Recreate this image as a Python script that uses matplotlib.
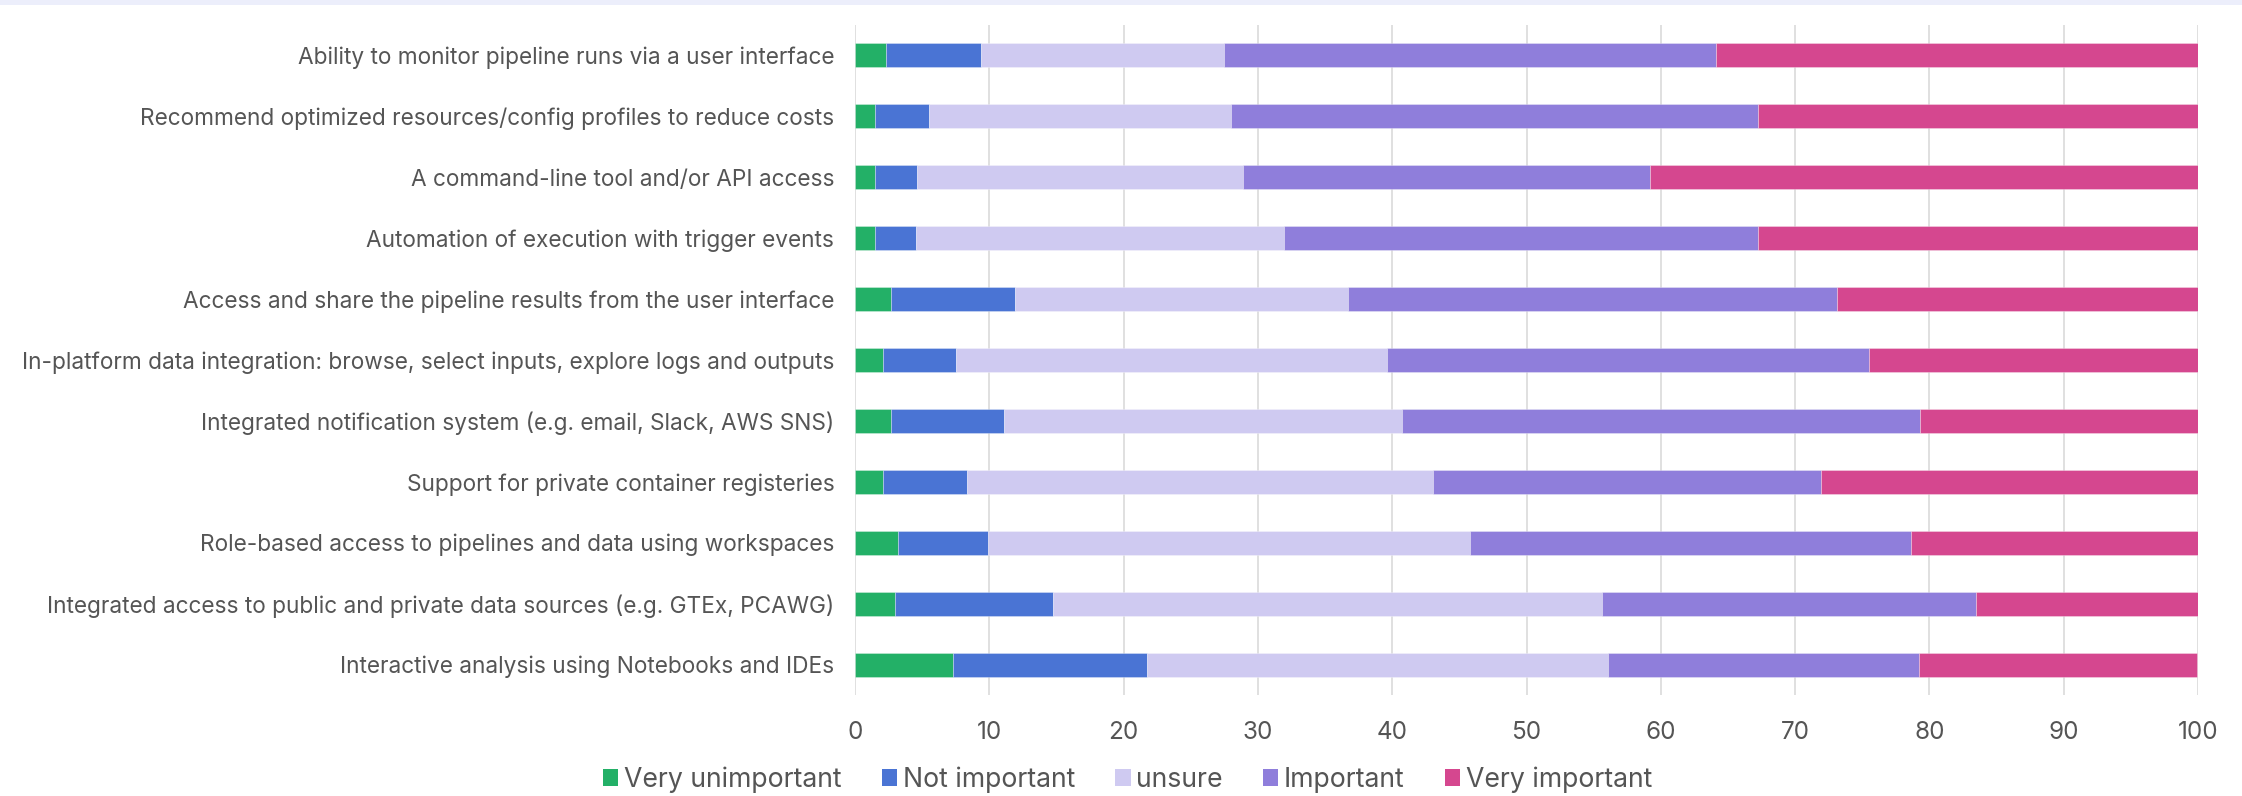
import matplotlib
matplotlib.use("Agg")
import matplotlib.pyplot as plt
from matplotlib.patches import Rectangle, Patch
import numpy as np

categories = [
    "Ability to monitor pipeline runs via a user interface",
    "Recommend optimized resources/config profiles to reduce costs",
    "A command-line tool and/or API access",
    "Automation of execution with trigger events",
    "Access and share the pipeline results from the user interface",
    "In-platform data integration: browse, select inputs, explore logs and outputs",
    "Integrated notification system (e.g. email, Slack, AWS SNS)",
    "Support for private container registeries",
    "Role-based access to pipelines and data using workspaces",
    "Integrated access to public and private data sources (e.g. GTEx, PCAWG)",
    "Interactive analysis using Notebooks and IDEs",
]
series_names = ["Very unimportant", "Not important", "unsure", "Important", "Very important"]
very_unimportant = [2.3, 1.5, 1.5, 1.5, 2.7, 2.1, 2.7, 2.1, 3.2, 3.0, 7.3]
not_important = [7.1, 4.0, 3.1, 3.0, 9.2, 5.4, 8.4, 6.2, 6.7, 11.7, 14.4]
unsure = [18.1, 22.5, 24.3, 27.4, 24.8, 32.1, 29.6, 34.7, 35.9, 40.9, 34.4]
important = [36.6, 39.2, 30.3, 35.3, 36.4, 35.9, 38.6, 28.9, 32.8, 27.9, 23.1]
very_important = [35.9, 32.8, 40.8, 32.8, 26.9, 24.5, 20.7, 28.1, 21.4, 16.5, 20.7]
x_ticks = [0, 10, 20, 30, 40, 50, 60, 70, 80, 90, 100]

colors = ["#23b067", "#4a74d4", "#cfcaf1", "#8f7edb", "#d5478f"]
text_color = "#555555"

plt.rcParams['font.family'] = ['Inter', 'DejaVu Sans']

fig = plt.figure(figsize=(22.42, 7.96), dpi=100)
ax = fig.add_axes([0.3814, 0.1269, 0.9804 - 0.3814, 0.9686 - 0.1269])

# top band
fig.patches.append(Rectangle((0, 1 - 4.5 / 796), 1, 4.5 / 796, transform=fig.transFigure,
                             facecolor="#eceefb", edgecolor="none", zorder=0))

data = [very_unimportant, not_important, unsure, important, very_important]
y = np.arange(len(categories))
left = np.zeros(len(categories))
for vals, c, name in zip(data, colors, series_names):
    vals = np.array(vals)
    ax.barh(y, vals, left=left, height=0.395, color=c, edgecolor=(1, 1, 1, 0.35),
            linewidth=0.6, label=name, zorder=3)
    left += vals

ax.set_xlim(0, 100)
ax.set_ylim(len(categories) - 0.5, -0.5)
ax.set_xticks(x_ticks)
ax.set_xticklabels([str(t) for t in x_ticks])
ax.set_yticks(y)
ax.set_yticklabels(categories)
ax.tick_params(axis='y', length=0, pad=15, labelsize=16.3, labelcolor=text_color)
ax.tick_params(axis='x', length=0, pad=19, labelsize=17.5, labelcolor=text_color)
for s in ax.spines.values():
    s.set_visible(False)
ax.grid(axis='x', color="#dddddd", linewidth=1.3, zorder=0)
ax.set_axisbelow(True)

handles = [Patch(facecolor=c, edgecolor='none') for c in colors]
fig.legend(handles, series_names, loc='center', bbox_to_anchor=(0.503, 0.021), ncol=5,
           frameon=False, fontsize=19.2, labelcolor=text_color,
           handlelength=0.57, handleheight=0.6, handletextpad=0.22, columnspacing=1.5,
           borderaxespad=0, borderpad=0)

fig.savefig("out.png", dpi=100)
